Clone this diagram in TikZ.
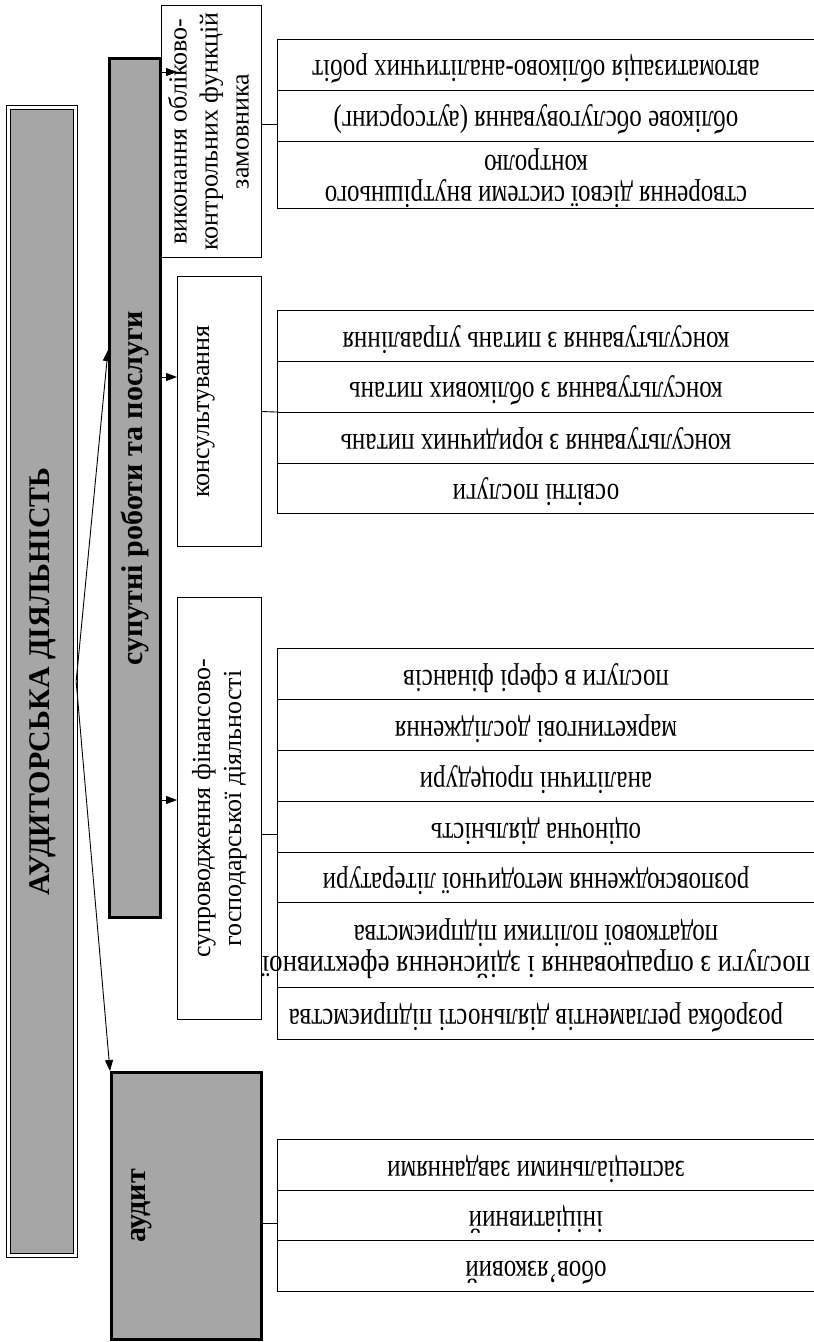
\documentclass[tikz,border=0pt]{standalone}
\usepackage{fontspec}
\setmainfont{Liberation Serif}
\usetikzlibrary{arrows.meta,positioning}
\definecolor{boxgray}{RGB}{166,166,166}
\tikzset{
	mainbox/.style={draw, double, double distance=2.6pt, line width=1.1pt, fill=boxgray, inner sep=0pt},
	greybox/.style={draw, line width=2.6pt, fill=boxgray, inner sep=0pt},
	whitebox/.style={draw, line width=1.1pt, fill=white, inner sep=0pt, font=\fontsize{26}{31}\selectfont},
	listframe/.style={draw, line width=1.1pt, minimum width=563pt, inner sep=0pt, anchor=north west},
	itemtext/.style={inner sep=0pt, yshift=-3pt, font=\fontsize{25}{24.5}\selectfont},
	boldtext/.style={font=\bfseries\fontsize{30}{36}\selectfont},
	link/.style={line width=0.9pt},
	arr/.style={line width=0.9pt, -{Triangle[length=11pt,width=8pt]}}
}
\newcommand{\sidetext}[1]{\rotatebox{90}{\begin{tabular}{@{}c@{}}#1\end{tabular}}}
\newcommand{\flipped}[1]{\rotatebox{180}{\scalebox{1}[1.28]{\begin{tabular}{@{}c@{}}#1\end{tabular}}}}

\begin{document}
\begin{tikzpicture}[x=1pt,y=-1pt]
	\useasboundingbox (0,0) rectangle (814,1342);
	\clip (0,0) rectangle (814,1342);

	% left column
	\node[mainbox, boldtext, minimum width=67.2pt, minimum height=1148.2pt] (main) at (42,681.5) {\sidetext{АУДИТОРСЬКА ДІЯЛЬНІСТЬ}};

	\node[whitebox, minimum width=99.9pt, minimum height=251.9pt] (vyk) at (211.5,131.5) {\sidetext{виконання обліково-\\контрольних функцій\\замовника}};
	\node[greybox, boldtext, minimum width=51.4pt, minimum height=859.4pt] (sup) at (135,488) {\sidetext{супутні роботи та послуги}};
	\node[whitebox, minimum width=83.9pt, minimum height=269.9pt] (kons) at (219.5,411.5) {\sidetext{консультування}\hspace*{33pt}};
	\node[whitebox, minimum width=83.9pt, minimum height=421.9pt] (sd) at (219.5,808.5) {\sidetext{супроводження фінансово-\\господарської діяльності}};
	\node[greybox, boldtext, minimum width=150.4pt, minimum height=267.4pt] (aud) at (186.5,1206) {\sidetext{аудит}\hspace*{97pt}};

	% arrows
	\draw[arr] (main.east) -- (sup.west |- 0,350);
	\draw[arr] (main.east) -- (aud.north west);
	\draw[arr] (sup.east |- 0,72) -- ++(15,0);
	\draw[arr] (sup.east |- 0,377) -- (kons.west |- 0,377);
	\draw[arr] (sup.east |- 0,800) -- (sd.west |- 0,800);

	% lists
	\node[listframe, minimum height=169pt] (vykL) at (277,39) {};
	\foreach \y in {90,141} \draw[link] (vykL.west |- 0,\y) -- (vykL.east |- 0,\y);
	\foreach \t/\y [count=\i] in {{автоматизація обліково-аналітичних робіт}/64.5,
		{облікове обслуговування (аутсорсинг)}/115.5,
		{створення дієвої системи внутрішнього\\контролю}/174.5}
		\node[itemtext] (vyk\i) at (536,\y) {\flipped{\t}};

	\node[listframe, minimum height=203pt] (konsL) at (277,310) {};
	\foreach \y in {361,412,463} \draw[link] (konsL.west |- 0,\y) -- (konsL.east |- 0,\y);
	\foreach \t/\y [count=\i] in {{консультування з питань управління}/335.5,
		{консультування з облікових питань}/386.5,
		{консультування з юридичних питань}/437.5,
		{освітні послуги}/488}
		\node[itemtext] (kons\i) at (536,\y) {\flipped{\t}};

	\node[listframe, minimum height=391pt] (sdL) at (277,648) {};
	\foreach \y in {699,750,801,852,902,987} \draw[link] (sdL.west |- 0,\y) -- (sdL.east |- 0,\y);
	\foreach \t/\y [count=\i] in {{послуги в сфері фінансів}/673.5,
		{маркетингові дослідження}/724.5,
		{аналітичні процедури}/775.5,
		{оціночна діяльність}/826.5,
		{розповсюдження методичної літератури}/877,
		{\scalebox{1.07}[1]{послуги з опрацювання і здійснення ефективної}\\податкової політики підприємства}/944.5,
		{розробка регламентів діяльності підприємства}/1013}
		\node[itemtext] (sd\i) at (536,\y) {\flipped{\t}};

	\node[listframe, minimum height=152pt] (audL) at (277,1139) {};
	\foreach \y in {1190,1240} \draw[link] (audL.west |- 0,\y) -- (audL.east |- 0,\y);
	\foreach \t/\y [count=\i] in {{заспеціальними завданнями}/1164.5,
		{ініціативний}/1215,
		{обов’язковий}/1265.5}
		\node[itemtext] (aud\i) at (536,\y) {\flipped{\t}};

	% links to lists
	\draw[link] (vyk.east |- vykL.west) -- (vykL.west);
	\draw[link] (kons.east) -- (konsL.west);
	\draw[link] (sd.east |- 0,834) -- (sdL.west |- 0,834);
	\draw[link] (aud.east |- 0,1223) -- (audL.west |- 0,1223);
\end{tikzpicture}
\end{document}
